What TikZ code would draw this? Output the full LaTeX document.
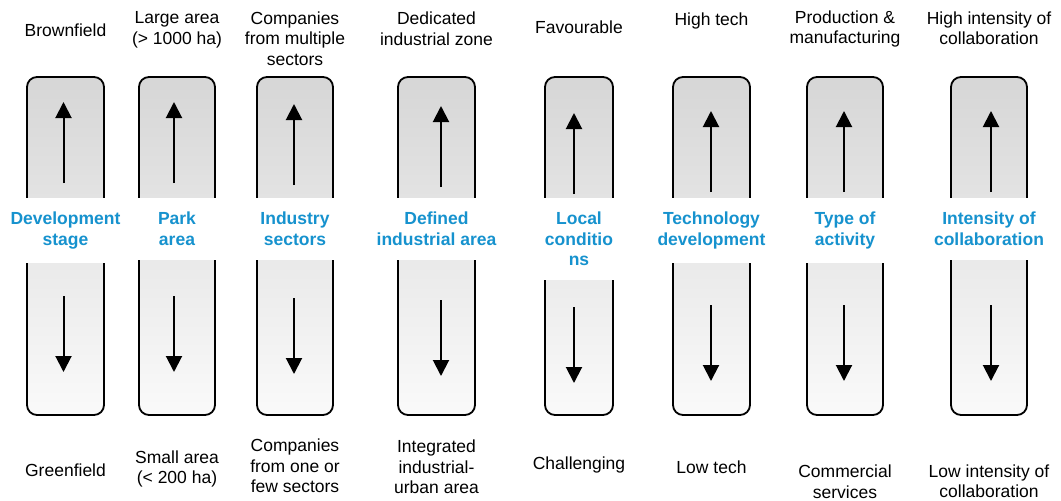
\documentclass[tikz,border=0pt]{standalone}
\usepackage{fontspec}
\setmainfont{Liberation Sans}
\usetikzlibrary{arrows.meta}
\definecolor{labelblue}{RGB}{22,146,206}
\tikzset{
  bar/.style={draw,line width=1.8pt,rounded corners=10pt,minimum height=338pt,
    top color=black!16,bottom color=black!2,inner sep=0pt},
  factorlabel/.style={anchor=north,fill=white,text=labelblue,font=\bfseries\fontsize{17.5}{20.5}\selectfont,
    align=center,inner xsep=2pt,inner ysep=14pt,minimum width=90pt},
  endlabel/.style={align=center,font=\fontsize{17.5}{20.5}\selectfont},
  trend/.style={line width=2pt,-{Triangle[width=16pt,length=16pt]}}
}
% [bar width]{name}{x}{factor}{top text}{top y}{bottom text}{bottom y}{arrow shift}
\newcommand{\factor}[9][77]{%
  \node[bar,minimum width=#1pt](#2bar) at (#3,246) {};
  \node[factorlabel](#2lab) at (#3,198) {#4};
  \node[endlabel](#2top) at (#3,#6) {#5};
  \node[endlabel](#2bot) at (#3,#8) {#7};
  \coordinate[shift={#9}] (#2upfrom) at (#3,183);
  \coordinate[shift={#9}] (#2upto) at (#3,102);
  \coordinate[shift={#9}] (#2downfrom) at (#3,296);
  \coordinate[shift={#9}] (#2downto) at (#3,372);
  \draw[trend] (#2upfrom) to (#2upto);
  \draw[trend] (#2downfrom) to (#2downto);}

\begin{document}
\begin{tikzpicture}[x=1pt,y=-1pt]
	\useasboundingbox (0,0) rectangle (1061,501);

	\factor{dev}{65.5}{Development\\stage}{Brownfield}{30}{Greenfield}{470}{(-2,0)}
	\factor[76]{park}{177}{Park\\area}{Large area\\(> 1000 ha)}{30}{Small area\\(< 200 ha)}{469}{(-3,0)}
	\factor[76]{sect}{295}{Industry\\sectors}{Companies\\from multiple\\sectors}{38.7}{Companies\\from one or\\few sectors}{466}{(-1,2)}
	\factor{zone}{436.5}{Defined\\industrial area}{Dedicated\\industrial zone}{28.7}{Integrated\\industrial-\\urban area}{467}{(4.5,4)}
	\factor[68]{local}{579}{Local\\conditio\\ns}{Favourable}{27}{Challenging}{465}{(-5,11)}
	\factor{tech}{711.5}{Technology\\development}{High tech}{20.5}{Low tech}{467}{(-0.5,9)}
	\factor[76]{act}{845}{Type of\\activity}{Production \&\\manufacturing}{28.9}{Commercial\\services}{481.5}{(-1,9)}
	\factor[76]{coll}{989}{Intensity of\\collaboration}{High intensity of\\collaboration}{28}{Low intensity of\\collaboration}{481}{(2,9)}
\end{tikzpicture}
\end{document}
